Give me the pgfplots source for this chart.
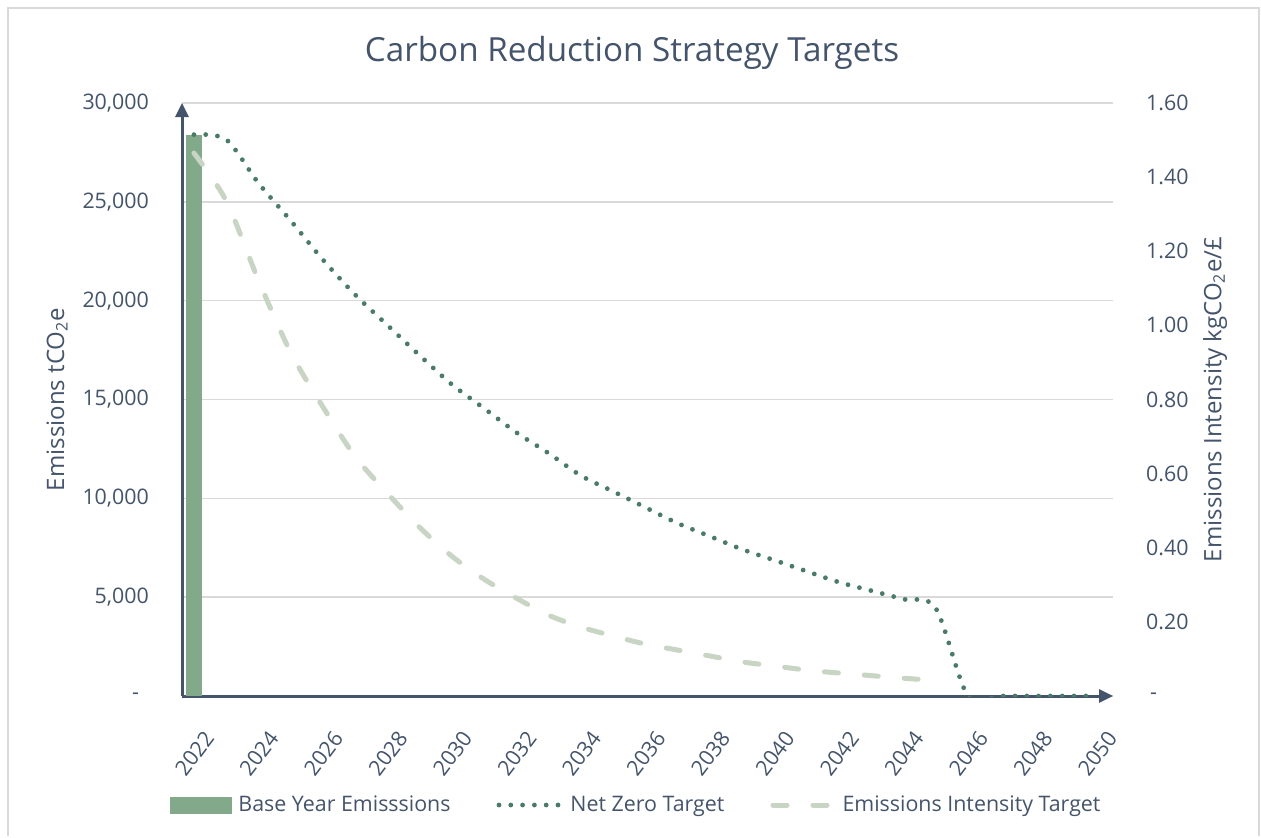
\documentclass[border=0pt]{standalone}
\usepackage{pgfplots}
\pgfplotsset{compat=1.18}
\usepackage{fontspec}
\setmainfont{Open Sans}
\usetikzlibrary{arrows.meta}
\definecolor{txt}{RGB}{68,84,106}
\definecolor{barc}{RGB}{130,170,138}
\definecolor{dotc}{RGB}{74,122,104}
\definecolor{dashc}{RGB}{200,212,196}
\definecolor{gridc}{RGB}{217,217,217}
\begin{document}
\begin{tikzpicture}
\pgfplotsset{
  common/.style={
    width=465.5pt, height=296.5pt, scale only axis,
    xmin=2021.63, xmax=2050.5,
    major tick length=0pt,
    scaled y ticks=false,
    tick label style={font=\fontsize{10.7}{12}\selectfont, text=txt},
  },
}
\begin{axis}[
  name=ax, common,
  ymin=0, ymax=30000,
  axis lines=left,
  x axis line style={-{Triangle[length=7pt,width=6.5pt]}, line width=1.5pt, draw=txt},
  y axis line style={-{Triangle[length=7pt,width=6.5pt]}, line width=1.5pt, draw=txt},
  ymajorgrids, grid style={gridc, line width=0.7pt},
  ytick={0,5000,10000,15000,20000,25000,30000},
  yticklabels={{-\hspace*{5pt}},{5,000},{10,000},{15,000},{20,000},{25,000},{30,000}},
  yticklabel style={anchor=east, xshift=-13pt},
  xtick={2022,2024,2026,2028,2030,2032,2034,2036,2038,2040,2042,2044,2046,2048,2050},
  xticklabels={2022,2024,2026,2028,2030,2032,2034,2036,2038,2040,2042,2044,2046,2048,2050},
  xticklabel style={rotate=53, anchor=east, xshift=-7pt, yshift=-17.5pt},
  every axis y label/.style={at={(axis description cs:0,0.5)}, xshift=-62.5pt, anchor=center, rotate=90},
  ylabel={\fontsize{12}{14}\selectfont\color{txt}Emissions tCO\textsubscript{2}e},
  title={\fontsize{16.6}{19}\selectfont\color{txt}Carbon Reduction Strategy Targets},
  title style={at={(axis description cs:0,1)}, anchor=center, xshift=225pt, yshift=19pt},
  legend columns=3,
  legend cell align=left,
  legend style={at={(axis description cs:0,0)}, anchor=west, xshift=-6pt, yshift=-54.5pt,
    draw=none, fill=none, inner sep=0pt,
    font=\fontsize{10.7}{12}\selectfont, text=txt,
    nodes={inner xsep=3pt, inner ysep=1pt},
    /tikz/every even column/.append style={column sep=20pt}},
]
\addplot[ybar, bar width=8pt, fill=barc, draw=none, area legend,
  legend image code/.code={\fill[barc] (0pt,-4.25pt) rectangle (31pt,4.25pt);}]
  coordinates {(2022,28400)};
\addlegendentry{Base Year Emisssions}
\addplot[dotc, line width=2.4pt, line cap=round, dash pattern=on 0pt off 5.9pt, smooth, tension=0.5,
  legend image code/.code={\draw[dotc, line width=2.4pt, line cap=round, dash pattern=on 0pt off 5.9pt] (2.5pt,0pt) -- (34pt,0pt);}]
  coordinates {
  (2022,28400) (2023,28150) (2024,25950) (2025,24050) (2026,22070) (2027,20300)
  (2028,18760) (2029,17230) (2030,15760) (2031,14550) (2032,13330) (2033,12280)
  (2034,11150) (2035,10350) (2036,9540) (2037,8740) (2038,8080) (2039,7420)
  (2040,6870) (2041,6310) (2042,5760) (2043,5330) (2044,4900) (2045,4450)
  (2046,0) (2047,0) (2048,0) (2049,0) (2050,0)};
\addlegendentry{Net Zero Target}
\addlegendimage{legend image code/.code={\draw[dashc, line width=2.5pt, line cap=round, dash pattern=on 7pt off 13pt] (2.5pt,0pt) -- (33pt,0pt);}}
\addlegendentry{Emissions Intensity Target}
\end{axis}
\begin{axis}[
  common,
  ymin=0, ymax=1.6,
  axis x line=none,
  axis y line*=right,
  y axis line style={draw=none},
  ytick={0,0.2,0.4,0.6,0.8,1.0,1.2,1.4,1.6},
  yticklabels={{\hspace*{2pt}-},0.20,0.40,0.60,0.80,1.00,1.20,1.40,1.60},
  yticklabel style={anchor=west, xshift=13pt},
  every axis y label/.style={at={(axis description cs:1,0.5)}, xshift=51pt, anchor=center, rotate=90},
  ylabel={\fontsize{12}{14}\selectfont\color{txt}Emissions Intensity kgCO\textsubscript{2}e/£},
]
\addplot[dashc, line width=2.5pt, line cap=round, dash pattern=on 7pt off 13pt, smooth, tension=0.5]
  coordinates {
  (2022,1.465) (2023,1.336) (2024,1.122) (2025,0.927) (2026,0.780) (2027,0.646)
  (2028,0.547) (2029,0.455) (2030,0.377) (2031,0.315) (2032,0.264) (2033,0.218)
  (2034,0.186) (2035,0.162) (2036,0.140) (2037,0.124) (2038,0.108) (2039,0.092)
  (2040,0.081) (2041,0.070) (2042,0.062) (2043,0.055) (2044,0.048) (2045,0.042)};
\end{axis}
\path ([shift={(-91pt,-70pt)}]ax.south west) rectangle ([shift={(539.5pt,348pt)}]ax.south west);
\draw[gridc, line width=1pt] ([shift={(-87pt,-70pt)}]ax.south west) -- ([shift={(-87pt,344pt)}]ax.south west)
  -- ([shift={(538.5pt,344pt)}]ax.south west) -- ([shift={(538.5pt,-70pt)}]ax.south west);
\end{tikzpicture}
\end{document}
